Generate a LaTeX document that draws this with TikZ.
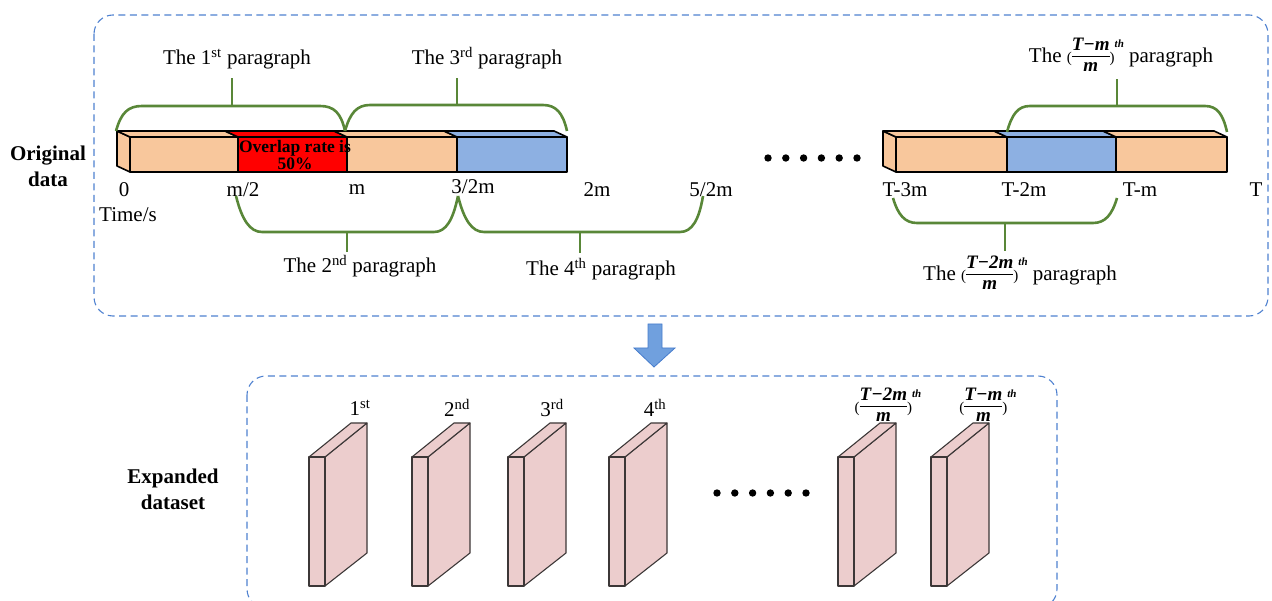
\documentclass[tikz,border=0pt]{standalone}
\usepackage{fontspec}
\setmainfont{Liberation Serif}
\definecolor{bracegreen}{RGB}{89,135,56}
\definecolor{dashblue}{RGB}{79,129,208}
\definecolor{segorange}{RGB}{248,199,156}
\definecolor{segblue}{RGB}{141,176,226}
\definecolor{segred}{RGB}{255,0,0}
\definecolor{slabpink}{RGB}{236,205,205}
\definecolor{slabedge}{RGB}{60,55,55}
\definecolor{arrowfill}{RGB}{112,160,222}
\definecolor{arrowedge}{RGB}{70,124,204}

% fraction label (T-...)/m with a small "th"
\newcommand\fracfont{\fontsize{19}{19}\selectfont\bfseries\itshape}
\newcommand\ratiolabel[1]{{\fontsize{15}{15}\selectfont(}{\renewcommand\arraystretch{0.85}\setlength\arrayrulewidth{1pt}%
  \begin{tabular}{@{}c@{}}\fracfont #1\\\hline\fracfont m\end{tabular}}%
  {\fontsize{15}{15}\selectfont)}\raisebox{1.5ex}{\fontsize{11}{11}\selectfont\bfseries\itshape th}}

% one coloured piece of the time bar: front face and top face
\newcommand\barpiece[3]{%
  \filldraw[fill=#3, bardraw] (#1,137) -- (#1-13,131) -- (#2-13,131) -- (#2,137) -- cycle;
  \filldraw[fill=#3, bardraw] (#1,137) rectangle (#2,172);
}

% one sample slab of the expanded dataset
\newcommand\drawslab[1]{%
  \filldraw[slab] (#1+16,457) -- (#1+58,423) -- (#1+58,553) -- (#1+16,586) -- cycle;
  \filldraw[slab] (#1,457) -- (#1+42,423) -- (#1+58,423) -- (#1+16,457) -- cycle;
  \filldraw[slab] (#1,457) rectangle (#1+16,586);
}

\tikzset{
  dashbox/.style={draw=dashblue, line width=1.1pt, dash pattern=on 7pt off 4.5pt, rounded corners=19pt},
  bardraw/.style={draw=black, line width=1.6pt, line join=round},
  slab/.style={fill=slabpink, draw=slabedge, line width=1.1pt, line join=round},
  bracepath/.style={draw=bracegreen, line width=2.6pt},
  lbl/.style={inner sep=0pt, font=\fontsize{21}{24}\selectfont},
  tick/.style={inner sep=0pt, font=\fontsize{21}{24}\selectfont},
  rowtitle/.style={inner sep=0pt, align=center, font=\fontsize{21}{26}\selectfont\bfseries},
}

\begin{document}
\begin{tikzpicture}[x=1pt, y=-1pt]
\useasboundingbox (0,0) rectangle (1272,601);

% frames
\draw[dashbox] (94,15) rectangle (1268,316);
\draw[dashbox] (247,376) rectangle (1057,608);

% row titles
\node[rowtitle] (orig) at (48,166) {Original\\data};
\node[rowtitle] (expd) at (173,489) {Expanded\\dataset};

% ---- left time bar ----
\filldraw[fill=segorange, bardraw] (130,137) -- (117,131) -- (117,166) -- (130,172) -- cycle;
\barpiece{130}{238}{segorange}
\barpiece{238}{347}{segred}
\barpiece{347}{457}{segorange}
\barpiece{457}{567}{segblue}
\node[inner sep=0pt, align=center, font=\fontsize{17.5}{17}\selectfont\bfseries] (ov) at (295,155) {Overlap rate is\\50\%};

% ---- right time bar ----
\filldraw[fill=segorange, bardraw] (896,137) -- (883,131) -- (883,166) -- (896,172) -- cycle;
\barpiece{896}{1007}{segorange}
\barpiece{1007}{1116}{segblue}
\barpiece{1116}{1227}{segorange}

% ellipsis dots
\foreach \i in {0,...,5} \fill (768+17.8*\i,158) circle (3.7);
\foreach \i in {0,...,5} \fill (717+17.8*\i,493) circle (3.7);

% time ticks
\node[tick] (t0) at (124,190) {0};
\node[tick] (t1) at (243,190) {m/2};
\node[tick] (t2) at (357,190) {m};
\node[tick] (t3) at (473,187) {3/2m};
\node[tick] (t4) at (597,190) {2m};
\node[tick] (t5) at (711,190) {5/2m};
\node[tick] (t6) at (905,190) {T-3m};
\node[tick] (t7) at (1024,190) {T-2m};
\node[tick] (t8) at (1140,190) {T-m};
\node[tick] (t9) at (1256,190) {T};
\node[tick] (tu) at (128,215) {Time/s};

% braces above the bars
\draw[bracepath] (116,131) .. controls (121,113) and (128,106) .. (142,106) -- (320,106) .. controls (334,106) and (341,113) .. (345,131);
\draw[bracepath] (232,106) -- (232,78);
\draw[bracepath] (345,131) .. controls (350,113) and (357,105) .. (370,105) -- (543,105) .. controls (556,105) and (563,113) .. (567,131);
\draw[bracepath] (457,105) -- (457,78);
\draw[bracepath] (1007,132) .. controls (1012,114) and (1018,106) .. (1030,106) -- (1205,106) .. controls (1217,106) and (1223,114) .. (1227,132);
\draw[bracepath] (1117,106) -- (1117,79);

% braces below the bars
\draw[bracepath] (236,196) .. controls (242,220) and (250,232) .. (262,232) -- (434,232) .. controls (446,232) and (453,220) .. (458,196);
\draw[bracepath] (347,232) -- (347,252);
\draw[bracepath] (458,196) .. controls (464,220) and (472,232) .. (484,232) -- (680,232) .. controls (692,232) and (699,220) .. (703,196);
\draw[bracepath] (580,232) -- (580,253);
\draw[bracepath] (893,198) .. controls (898,215) and (905,223) .. (917,223) -- (1093,223) .. controls (1105,223) and (1112,215) .. (1117,198);
\draw[bracepath] (1005,223) -- (1005,251);

% paragraph labels
\node[lbl] (p1) at (237,59) {The 1\textsuperscript{st} paragraph};
\node[lbl] (p3) at (487,58) {The 3\textsuperscript{rd} paragraph};
\node[lbl] (pn) at (1121,57) {The \ratiolabel{T−m} paragraph};
\node[lbl] (p2) at (360,266) {The 2\textsuperscript{nd} paragraph};
\node[lbl] (p4) at (601,269) {The 4\textsuperscript{th} paragraph};
\node[lbl] (pm) at (1020,275) {The \ratiolabel{T−2m} paragraph};

% downward arrow
\filldraw[fill=arrowfill, draw=arrowedge, line width=0.8pt, line join=miter]
  (648,324) -- (662,324) -- (662,348) -- (675,348) -- (654,367) -- (634,348) -- (648,348) -- cycle;

% expanded dataset slabs
\drawslab{309}
\drawslab{412}
\drawslab{508}
\drawslab{609}
\drawslab{838}
\drawslab{931}

\node[lbl] (s1) at (360,408) {1\textsuperscript{st}};
\node[lbl] (s2) at (457,408) {2\textsuperscript{nd}};
\node[lbl] (s3) at (552,408) {3\textsuperscript{rd}};
\node[lbl] (s4) at (655,408) {4\textsuperscript{th}};
\node[lbl] (s5) at (888,407) {\ratiolabel{T−2m}};
\node[lbl] (s6) at (988,407) {\ratiolabel{T−m}};
\end{tikzpicture}
\end{document}
